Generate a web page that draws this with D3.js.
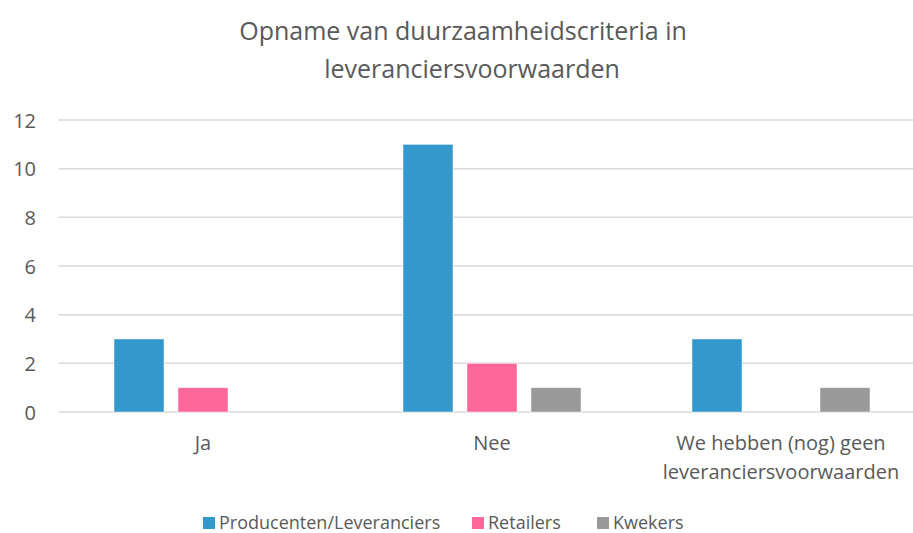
<!DOCTYPE html>
<html>
<head>
<meta charset="utf-8">
<script src="https://cdn.jsdelivr.net/npm/d3@7"></script>
<style>
	body { margin: 0; background: #fff; }
	svg text { font-family: "Open Sans", "Noto Sans", sans-serif; fill: #595959; }
</style>
</head>
<body>
<svg id="chart" width="913" height="533"></svg>
<script>

// chart data
let titleLines = ['Opname van duurzaamheidscriteria in', 'leveranciersvoorwaarden'];
let categories = ['Ja', 'Nee', 'We hebben (nog) geen leveranciersvoorwaarden'];
let categoryLines = [['Ja'], ['Nee'], ['We hebben (nog) geen', 'leveranciersvoorwaarden']];
let seriesNames = ['Producenten/Leveranciers', 'Retailers', 'Kwekers'];
let seriesColors = ['#3399cc', '#ff6699', '#999999'];
let producenten = [3, 11, 3];
let retailers = [1, 2, 0];
let kwekers = [0, 1, 1];
let yTicks = [0, 2, 4, 6, 8, 10, 12];

let seriesValues = [producenten, retailers, kwekers];

drawChart();

function drawChart() {

	let svg = d3.select('#chart');

	// plot area (runs a little past the right edge, as in the original)
	let plotLeft = 58.5;
	let plotRight = 925.5;
	let plotTop = 120;
	let plotBottom = 412;

	let xScale = d3.scaleBand()
		.domain(categories)
		.range([plotLeft, plotRight]);
	let groupPad = (xScale.bandwidth() - 178) / 2;
	let xInner = d3.scaleBand()
		.domain(seriesNames)
		.range([groupPad, xScale.bandwidth() - groupPad])
		.paddingInner(0.21875);
	let yScale = d3.scaleLinear()
		.domain([0, 12])
		.range([plotBottom, plotTop]);

	// gridlines
	svg.append('g')
		.selectAll('line')
		.data(yTicks)
		.join('line')
		.attr('x1', plotLeft)
		.attr('x2', plotRight)
		.attr('y1', d => yScale(d))
		.attr('y2', d => yScale(d))
		.attr('stroke', '#d9d9d9')
		.attr('stroke-width', 1.5);

	// y axis labels
	let yAxis = d3.axisLeft(yScale).tickValues(yTicks).tickSize(0).tickPadding(0);
	let yG = svg.append('g')
		.attr('transform', 'translate(36,0)')
		.call(yAxis);
	yG.select('.domain').remove();
	yG.selectAll('text')
		.attr('font-size', 20)
		.attr('font-family', null)
		.attr('fill', null)
		.attr('dy', '0.35em');

	// bars
	let rows = [];
	categories.forEach((c, ci) => {
		seriesNames.forEach((s, si) => {
			rows.push({ cat: c, series: s, value: seriesValues[si][ci], color: seriesColors[si] });
		});
	});
	svg.append('g')
		.selectAll('rect')
		.data(rows.filter(r => r.value > 0))
		.join('rect')
		.attr('x', d => xScale(d.cat) + xInner(d.series))
		.attr('y', d => yScale(d.value))
		.attr('width', xInner.bandwidth())
		.attr('height', d => yScale(0) - yScale(d.value))
		.attr('fill', d => d.color)
		.attr('stroke', 'rgba(255,255,255,0.6)')
		.attr('stroke-width', 0.8);

	// category labels
	let catG = svg.append('g');
	categories.forEach((c, ci) => {
		let cx = xScale(c) + xScale.bandwidth() / 2;
		categoryLines[ci].forEach((line, li) => {
			catG.append('text')
				.attr('x', cx)
				.attr('y', 450 + li * 29)
				.attr('text-anchor', 'middle')
				.attr('font-size', 20)
				.text(line);
		});
	});

	// title (first line is offset by its trailing space in the original)
	let titleX = [463, 472];
	let titleY = [40, 78];
	titleLines.forEach((line, i) => {
		svg.append('text')
			.attr('x', titleX[i])
			.attr('y', titleY[i])
			.attr('text-anchor', 'middle')
			.attr('font-size', 25)
			.text(line);
	});

	// legend
	let legendX = [203, 472, 597];
	let legend = svg.append('g');
	seriesNames.forEach((s, i) => {
		legend.append('rect')
			.attr('x', legendX[i])
			.attr('y', 517)
			.attr('width', 12)
			.attr('height', 12)
			.attr('fill', seriesColors[i]);
		legend.append('text')
			.attr('x', legendX[i] + 16)
			.attr('y', 529)
			.attr('font-size', 18)
			.text(s);
	});
}
</script>
</body>
</html>
